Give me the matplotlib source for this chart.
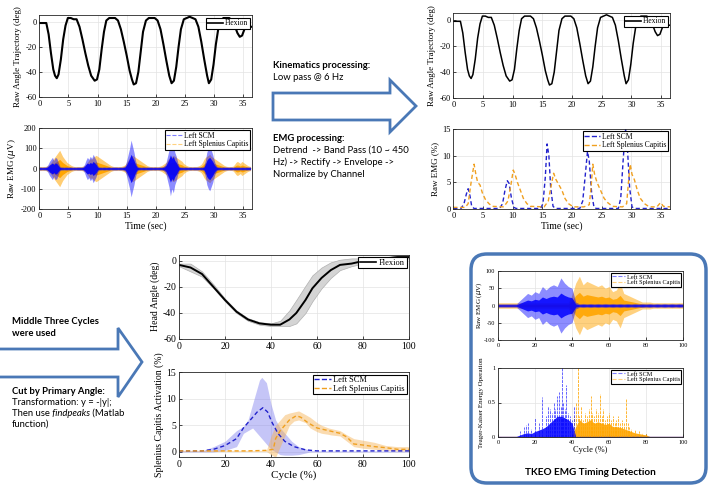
import numpy as np
import matplotlib
matplotlib.use("Agg")
import matplotlib.pyplot as plt
from matplotlib.lines import Line2D
from matplotlib.patches import Polygon, FancyBboxPatch

# ---- data ----
# primary angle trajectory (deg) vs time (s)
tid = [0, 0.6, 1.2, 1.6, 2.0, 2.4, 2.7, 3.0, 3.3, 3.7,
       4.1, 4.5, 4.9, 5.4, 5.9, 6.4, 6.9, 7.4, 7.9, 8.4,
       8.9, 9.5, 9.9, 10.3, 10.7, 11.1, 11.5, 12.0, 12.5, 13.0,
       13.5, 14.0, 14.5, 15.0, 15.5, 15.9, 16.2, 16.6, 17.0, 17.4,
       17.8, 18.3, 18.8, 19.3, 19.8, 20.3, 20.8, 21.3, 21.8, 22.3,
       22.7, 23.1, 23.5, 23.9, 24.3, 24.8, 25.3, 25.8, 26.3, 26.8,
       27.3, 27.8, 28.3, 28.8, 29.1, 29.5, 29.9, 30.3, 30.7, 31.1,
       31.6, 32.1, 32.6, 33.1, 33.6, 34.0, 34.4, 34.8, 35.2, 35.6,
       36.0, 36.5]
vinkel = [-1, -1, -1, -10, -25, -38, -43, -45, -42, -30,
          -14, -3, 3, 3, 2, 2, -4, -14, -25, -35,
          -43, -47, -46, -38, -22, -8, 1, 3, 3, 3,
          1, -6, -16, -27, -39, -46, -50, -49, -40, -24,
          -8, 1, 3, 3, 3, 1, -6, -18, -31, -43,
          -49, -47, -36, -20, -6, 2, 3, 4, 3, 2,
          -4, -16, -30, -43, -49, -46, -34, -18, -6, 1,
          3, 3, 3, 1, -4, -9, -12, -11, -6, -4,
          -4, -4]

# raw EMG amplitude (uV), one value per 0.25 s from 0 s
emg_dt = 0.25
emg_scm = [8, 8, 7, 8, 8, 10, 20, 35, 45, 55, 40, 55, 50, 30, 12, 8,
           8, 7, 8, 8, 7, 8, 8, 7, 8, 7, 8, 8, 8, 8, 10, 20,
           40, 55, 45, 60, 50, 70, 55, 40, 15, 8, 8, 7, 8, 8, 7, 8,
           8, 7, 8, 8, 8, 8, 7, 8, 8, 8, 10, 15, 40, 70, 100, 140,
           110, 80, 40, 15, 8, 8, 7, 8, 8, 7, 8, 8, 8, 8, 7, 8,
           8, 7, 8, 8, 8, 10, 15, 30, 60, 90, 135, 100, 120, 80, 60, 30,
           10, 8, 8, 7, 8, 8, 7, 8, 8, 7, 8, 8, 8, 8, 7, 8,
           8, 12, 40, 80, 100, 110, 90, 70, 40, 20, 10, 8, 8, 7, 8, 8,
           8, 8, 7, 8, 8, 7, 8, 8, 8, 8, 7, 8, 8, 7, 8, 8, 8, 8]
emg_spl = [10, 10, 10, 10, 10, 12, 15, 20, 30, 40, 50, 60, 70, 80, 90, 75,
           60, 50, 40, 30, 25, 20, 15, 12, 10, 10, 10, 10, 10, 10, 12, 15,
           20, 30, 40, 50, 45, 55, 60, 65, 60, 55, 50, 45, 40, 35, 30, 25,
           20, 15, 12, 10, 10, 10, 10, 10, 10, 12, 15, 20, 30, 40, 55, 60,
           65, 60, 55, 50, 45, 40, 35, 30, 25, 20, 15, 12, 10, 10, 10, 10,
           10, 10, 10, 12, 15, 20, 25, 30, 40, 50, 55, 60, 65, 60, 55, 50,
           45, 40, 35, 25, 20, 15, 12, 10, 10, 10, 10, 10, 10, 12, 15, 20,
           30, 45, 55, 60, 65, 70, 60, 55, 50, 45, 40, 35, 30, 25, 20, 15,
           12, 10, 10, 10, 10, 12, 20, 30, 35, 30, 25, 35, 30, 25, 20, 15,
           12, 10]

# normalized envelopes (%)
scm_t = [0, 1.3, 1.8, 2.2, 2.5, 2.8, 3.1, 3.5, 7.8, 8.3, 8.7, 9.1, 9.4, 9.8, 10.2, 10.6,
         14.7, 15.1, 15.5, 15.8, 16.1, 16.4, 16.8, 17.2, 21.3, 21.8, 22.2, 22.6, 22.9, 23.3,
         23.7, 24.1, 27.8, 28.2, 28.6, 29.0, 29.3, 29.7, 30.1, 30.5, 36.5]
scm_env = [0.1, 0.1, 1, 2.8, 3.8, 2.5, 0.5, 0.1, 0.1, 1, 3.5, 5.3, 4.8, 2, 0.3, 0.1,
           0.1, 1, 6, 12.2, 10, 4, 0.5, 0.1, 0.1, 1.5, 6, 10.8, 9, 3,
           0.3, 0.1, 0.1, 2, 9, 15.2, 12, 4, 0.4, 0.1, 0.1]
spl_t = [0, 2.0, 2.5, 3.0, 3.5, 3.8, 4.1, 4.5, 4.9, 5.4, 6.0, 6.6, 8.5, 9.2, 9.7, 10.1,
         10.4, 10.8, 11.3, 11.8, 12.4, 13.0, 15.3, 16.0, 16.5, 16.9, 17.3, 17.8, 18.3, 18.8,
         19.4, 20.2, 22.0, 22.9, 23.2, 23.5, 23.8, 24.2, 24.8, 25.4, 26.0, 26.8, 28.5, 29.2,
         29.5, 29.8, 30.1, 30.5, 31.0, 31.5, 32.2, 33.0, 34.3, 34.9, 35.4, 36.5]
spl_env = [0.3, 0.3, 1, 5, 8.4, 6.5, 5, 4.5, 3, 1.8, 1, 0.5, 0.4, 1.5, 4.5, 7.3,
           6.5, 5, 3.5, 2, 1, 0.5, 0.4, 1.5, 4.5, 6.7, 5.5, 4.5, 3.5, 2,
           1, 0.4, 0.4, 0.8, 4, 8.4, 6.5, 5, 3.5, 2, 1.2, 0.5, 0.4, 1,
           5, 8.4, 6.5, 5.5, 3.5, 2, 1, 0.4, 0.4, 1.2, 0.5, 0.4]

# head angle over cycle (%)
syklus = [0, 5, 10, 15, 20, 25, 30, 35, 40, 44, 48, 51, 55, 58, 62, 66, 70, 75, 80, 85, 90, 95, 100]
hode_mid = [-3, -5, -10, -20, -30, -39, -45, -48, -49, -49, -45, -40, -30, -21, -13, -7, -3, -2, 0, 1, 2, 3, 3]
hode_hoy = [-2, -2, -8, -18, -29, -38, -44, -47, -48, -46, -38, -30, -19, -11, -5, -1, 1, 2, 2, 2, 3, 4, 4]
hode_lav = [-4, -8, -12, -21, -31, -40, -46, -49, -50, -50, -50, -48, -40, -31, -21, -13, -7, -4, -2, 0, 1, 2, 2]

# activation over cycle (%)
scm_x = [0, 10, 15, 20, 25, 28, 31, 34, 36.5, 38.5, 40.5, 43, 46, 50, 55, 60, 100]
scm_mid = [0.2, 0.2, 0.5, 1.2, 2.5, 4.5, 6, 7.5, 8.3, 7.5, 5.5, 3.5, 2, 1, 0.4, 0.2, 0.2]
scm_bx = [0, 10, 15, 20, 25, 28, 30, 32, 35, 36, 38, 40, 42, 44, 46, 49, 52, 57, 60, 100]
scm_hoy = [0.2, 0.2, 1, 2, 4, 4.8, 6, 9, 13.5, 14, 13, 9, 6, 4.5, 3.5, 2, 1, 0.3, 0.2, 0.2]
scm_lav = [0, 0, 0, 0.3, 1, 3.5, 4, 4.5, 3, 2.5, 1.5, 0.5, 0, -0.5, -0.6, -0.6, -0.5, 0, 0, 0]
spl_x = [0, 30, 38, 41, 42, 44, 46, 48, 51, 53, 56, 60, 65, 70, 73, 76, 80, 85, 90, 95, 100]
spl_mid = [0.2, 0.2, 0.3, 0.5, 2.5, 4, 5, 6, 6.8, 6.5, 5.5, 4.5, 4, 3.5, 2.8, 1.5, 1.3, 1, 0.8, 0.5, 0.5]
spl_bx = [0, 38, 40, 42, 44, 46, 48, 50, 52, 55, 57, 60, 62, 65, 66, 70, 73, 76, 80, 85, 90, 95, 100]
spl_hoy = [0.3, 0.3, 3, 5, 6, 7, 7.3, 7.5, 7.7, 7, 6.5, 5.5, 5, 4.5, 4.4, 4, 3.2, 2.5, 2.2, 1.8, 1.2, 1, 1]
spl_lav = [0.1, 0.1, -0.5, -1, 1, 3, 5, 5.8, 6, 5.5, 4.5, 3.8, 3.5, 3.3, 3.2, 3, 2, 1, 0.7, 0.5, 0.3, 0.2, 0.2]

# raw EMG over cycle, amplitude every 2 %
syk_dx = 2
syk_scm = [5, 5, 5, 5, 5, 5, 15, 25, 35, 30, 40, 35, 55, 45, 55, 60, 55, 80, 65, 55,
           50, 10, 5, 6, 5, 6, 5, 6, 5, 6, 5, 6, 5, 6, 5, 6, 5, 6, 5, 6,
           5, 6, 5, 6, 5, 6, 5, 6, 5, 6, 5]
syk_spl = [8, 8, 8, 8, 8, 8, 8, 8, 8, 8, 8, 8, 8, 8, 8, 8, 8, 8, 8, 8,
           30, 65, 85, 60, 70, 65, 60, 55, 60, 50, 55, 40, 45, 65, 35, 30, 25, 20, 15, 10,
           10, 10, 8, 8, 8, 8, 8, 8, 8, 8, 8]

# TKEO spikes and dense mass
tk_scm_x = [12, 14, 15, 16, 18, 20, 22, 24, 26, 27, 28, 29, 30, 31, 32, 33, 34, 34.5, 35, 36, 37, 38, 39, 40, 41]
tk_scm_y = [0.08, 0.15, 0.18, 0.2, 0.12, 0.28, 0.2, 0.58, 0.3, 0.45, 0.4, 0.35, 0.5, 0.4, 0.6, 0.65, 0.45, 1.0, 0.5, 0.4, 0.75, 0.35, 0.3, 0.25, 0.45]
tk_spl_x = [41, 42, 43, 44, 45, 46, 47, 48, 49, 50, 51, 52, 53, 54, 55, 56, 57, 58, 59, 60,
            61, 62, 63, 64, 65, 66, 67, 68, 69, 70, 71, 72, 74, 76, 78, 80]
tk_spl_y = [0.3, 0.5, 1.0, 0.3, 0.45, 0.25, 0.35, 0.3, 0.4, 0.6, 0.35, 0.3, 0.4, 0.35, 0.62, 0.3, 0.4, 0.25, 0.3, 0.35,
            0.25, 0.3, 0.2, 0.25, 0.3, 0.2, 0.25, 0.2, 0.55, 0.2, 0.15, 0.12, 0.1, 0.08, 0.06, 0.05]
tk_scm_masse = [0.01, 0.01, 0.01, 0.01, 0.01, 0.01, 0.03, 0.05, 0.06, 0.05, 0.08, 0.1, 0.12, 0.15, 0.2, 0.25, 0.3, 0.3, 0.28, 0.25,
                0.2, 0.01, 0.01, 0.01, 0.01, 0.01, 0.01, 0.01, 0.01, 0.01, 0.01, 0.01, 0.01, 0.01, 0.01, 0.01, 0.01, 0.01, 0.01, 0.01,
                0.01, 0.01, 0.01, 0.01, 0.01, 0.01, 0.01, 0.01, 0.01, 0.01, 0.01]
tk_spl_masse = [0.01, 0.01, 0.01, 0.01, 0.01, 0.01, 0.01, 0.01, 0.01, 0.01, 0.01, 0.01, 0.01, 0.01, 0.01, 0.01, 0.01, 0.01, 0.01, 0.01,
                0.01, 0.15, 0.25, 0.2, 0.22, 0.25, 0.2, 0.22, 0.2, 0.18, 0.2, 0.15, 0.15, 0.14, 0.12, 0.1, 0.08, 0.06, 0.05, 0.04,
                0.03, 0.01, 0.01, 0.01, 0.01, 0.01, 0.01, 0.01, 0.01, 0.01, 0.01]

# ---- styling ----
BLA = "#0000ff"
ORANSJE = "#ffa500"
BLA_ENV = "#2222cc"
ORA_ENV = "#f0a020"
PIL = "#4a78b6"

plt.rcParams["font.family"] = ["Liberation Serif", "DejaVu Serif"]
plt.rcParams["axes.unicode_minus"] = False

W, H = 709, 486
fig = plt.figure(figsize=(W / 100, H / 100), dpi=100)


def akse(l, t, r, b):
    return fig.add_axes([l / W, 1 - b / H, (r - l) / W, (b - t) / H])


def stil(ax, fs=6):
    ax.tick_params(direction="in", length=2, width=0.5, labelsize=fs, pad=2)
    ax.grid(True, color="#e3e3e3", lw=0.5)
    ax.set_axisbelow(True)
    for s in ax.spines.values():
        s.set_linewidth(0.6)
        s.set_color("#262626")


def forklaring(ax, fs, handles=None, labels=None, **kw):
    args = (handles, labels) if handles is not None else ()
    lg = ax.legend(*args, fontsize=fs, frameon=True, fancybox=False, framealpha=1,
                   edgecolor="black", borderpad=0.2, handlelength=2.0, handletextpad=0.3,
                   labelspacing=0.05, borderaxespad=0.3, **kw)
    lg.get_frame().set_linewidth(0.8)
    return lg


emg_tid = np.arange(len(emg_scm)) * emg_dt
syk_tid = np.arange(len(syk_scm)) * syk_dx
fl_handle = [Line2D([], [], color="black", lw=1.2)]
raa_handles = [Line2D([], [], color=BLA, lw=0.8, ls="--", alpha=0.5),
               Line2D([], [], color=ORANSJE, lw=0.8, ls="--", alpha=0.5)]
env_handles = [Line2D([], [], color=BLA_ENV, lw=1.0, ls="--"),
               Line2D([], [], color=ORA_ENV, lw=1.0, ls="--")]
navn = ["Left SCM", "Left Splenius Capitis"]

# A: raw angle
ax = akse(39.3, 15.5, 252, 97)
ax.plot(tid, vinkel, color="black", lw=1.5)
ax.set_xlim(0, 36.5)
ax.set_ylim(-60, 5)
ax.set_xticks(range(0, 36, 5))
ax.set_yticks([-60, -40, -20, 0])
ax.set_ylabel("Raw Angle Trajectory (deg)", fontsize=6.5, labelpad=2)
stil(ax)
forklaring(ax, 5.5, fl_handle, ["Flexion"], loc="upper right")

# B: raw EMG
ax = akse(39.3, 128, 252, 209)
ax.fill_between(emg_tid, [-a for a in emg_spl], emg_spl, color=ORANSJE, alpha=0.55, lw=0)
ax.fill_between(emg_tid, [-0.5 * a for a in emg_spl], [0.5 * a for a in emg_spl], color=ORANSJE, lw=0)
ax.fill_between(emg_tid, [-a for a in emg_scm], emg_scm, color=BLA, alpha=0.45, lw=0)
ax.fill_between(emg_tid, [-0.5 * a for a in emg_scm], [0.5 * a for a in emg_scm], color=BLA, alpha=0.9, lw=0)
ax.set_xlim(0, 36.5)
ax.set_ylim(-200, 200)
ax.set_xticks(range(0, 36, 5))
ax.set_yticks([-200, -100, 0, 100, 200])
ax.set_ylabel("Raw EMG ($\\mu$V)", fontsize=6.5, labelpad=2)
ax.set_xlabel("Time (sec)", fontsize=7, labelpad=1)
stil(ax)
forklaring(ax, 5.5, raa_handles, navn, loc="upper right")

# C: filtered angle
ax = akse(453.3, 13.5, 670, 98)
ax.plot(tid, vinkel, color="black", lw=1.1)
ax.set_xlim(0, 36.5)
ax.set_ylim(-60, 5)
ax.set_xticks(range(0, 36, 5))
ax.set_yticks([-60, -40, -20, 0])
ax.set_ylabel("Raw Angle Trajectory (deg)", fontsize=6.5, labelpad=2)
stil(ax)
forklaring(ax, 5.5, fl_handle, ["Flexion"], loc="upper right")

# D: envelopes
ax = akse(453.3, 129, 670, 209)
ax.plot(scm_t, scm_env, color=BLA_ENV, lw=1.0, ls=(0, (3, 2)))
ax.plot(spl_t, spl_env, color=ORA_ENV, lw=1.0, ls=(0, (3, 2)))
ax.set_xlim(0, 36.5)
ax.set_ylim(0, 15)
ax.set_xticks(range(0, 36, 5))
ax.set_yticks([0, 5, 10, 15])
ax.set_ylabel("Raw EMG (%)", fontsize=6.5, labelpad=2)
ax.set_xlabel("Time (sec)", fontsize=7, labelpad=1)
stil(ax)
forklaring(ax, 5.5, env_handles, navn, loc="upper right")

# E: head angle over cycle
ax = akse(179, 254.5, 409, 339)
ax.fill_between(syklus, hode_lav, hode_hoy, color="#d4d4d4", lw=0.5, edgecolor="#b0b0b0")
ax.plot(syklus, hode_mid, color="black", lw=1.4)
ax.set_xlim(0, 100)
ax.set_ylim(-60, 5)
ax.set_yticks([-60, -40, -20, 0])
ax.set_ylabel("Head Angle (deg)", fontsize=7, labelpad=2)
stil(ax, 7)
forklaring(ax, 6, fl_handle, ["Flexion"], loc="upper right")

# F: activation over cycle
ax = akse(179, 372, 409, 457.3)
ax.fill_between(scm_bx, scm_lav, scm_hoy, color="#8080ee", alpha=0.45, lw=0)
ax.fill_between(spl_bx, spl_lav, spl_hoy, color="#f5b050", alpha=0.45, lw=0)
ax.plot(scm_x, scm_mid, color=BLA_ENV, lw=1.0, ls=(0, (3, 2)))
ax.plot(spl_x, spl_mid, color=ORA_ENV, lw=1.0, ls=(0, (3, 2)))
ax.set_xlim(0, 100)
ax.set_ylim(-1, 15)
ax.set_yticks([0, 5, 10, 15])
ax.set_ylabel("Splenius Capitis Activation (%)", fontsize=7, labelpad=2)
ax.set_xlabel("Cycle (%)", fontsize=8, labelpad=1)
stil(ax, 7)
forklaring(ax, 6, env_handles, navn, loc="upper right")

# G: raw EMG over cycle
ax = akse(498, 271, 683, 340)
ax.fill_between(syk_tid, [-a for a in syk_spl], syk_spl, color=ORANSJE, alpha=0.5, lw=0)
ax.fill_between(syk_tid, [-0.45 * a for a in syk_spl], [0.45 * a for a in syk_spl], color=ORANSJE, alpha=0.9, lw=0)
ax.fill_between(syk_tid, [-a for a in syk_scm], syk_scm, color=BLA, alpha=0.45, lw=0)
ax.fill_between(syk_tid, [-0.45 * a for a in syk_scm], [0.45 * a for a in syk_scm], color=BLA, alpha=0.85, lw=0)
ax.set_xlim(0, 100)
ax.set_ylim(-100, 100)
ax.set_yticks([-100, -50, 0, 50, 100])
stil(ax, 4.5)
ax.set_ylabel("Raw EMG ($\\mu$V)", fontsize=5)
ax.yaxis.set_label_coords((484 - 498) / 185, 0.5)
forklaring(ax, 4.5, raa_handles, navn, loc="upper right")

# H: TKEO
ax = akse(498, 368, 683, 437)
ax.fill_between(syk_tid, 0, tk_spl_masse, color=ORANSJE, alpha=0.9, lw=0)
ax.fill_between(syk_tid, 0, tk_scm_masse, color=BLA, alpha=0.85, lw=0)
ax.vlines(tk_spl_x, 0, tk_spl_y, color=ORANSJE, lw=0.7, alpha=0.8, linestyles=(0, (3, 1)))
ax.vlines(tk_scm_x, 0, tk_scm_y, color=BLA, lw=0.7, alpha=0.6, linestyles=(0, (3, 1)))
ax.set_xlim(0, 100)
ax.set_ylim(0, 1)
ax.set_yticks([0, 0.5, 1])
ax.set_yticklabels(["0", "0.5", "1"])
stil(ax, 4.5)
ax.set_ylabel("Teager-Kaiser Energy Operation", fontsize=5)
ax.yaxis.set_label_coords((484 - 498) / 185, 0.5)
ax.set_xlabel("Cycle (%)", fontsize=6, labelpad=1)
forklaring(ax, 4.5, raa_handles, navn, loc="upper right")

# ---- annotations, arrows and box in pixel coordinates ----
bg = fig.add_axes([0, 0, 1, 1], zorder=5)
bg.set_xlim(0, W)
bg.set_ylim(H, 0)
bg.axis("off")
bg.patch.set_alpha(0)

bg.add_patch(Polygon([(273, 93), (390, 93), (390, 80), (416, 106), (390, 132), (390, 120), (273, 120)],
                     closed=True, facecolor="white", edgecolor=PIL, lw=2))
bg.add_patch(Polygon([(-5, 349), (118, 349), (118, 328), (142, 362), (118, 397), (118, 377), (-5, 377)],
                     closed=True, facecolor="white", edgecolor=PIL, lw=2))
bg.add_patch(FancyBboxPatch((471, 254), 235, 229, boxstyle="round,pad=0,rounding_size=16",
                            facecolor="none", edgecolor=PIL, lw=2.5))

sans = ["Lato", "DejaVu Sans"]
fs = 6.8
bg.text(273, 65, "Kinematics processing:", family=sans, fontsize=fs, fontweight="bold", va="center")
bg.text(273, 77, "Low pass @ 6 Hz", family=sans, fontsize=fs, va="center")
bg.text(273, 138, "EMG processing:", family=sans, fontsize=fs, fontweight="bold", va="center")
bg.text(273, 150, "Detrend  -> Band Pass (10 ~ 450", family=sans, fontsize=fs, va="center")
bg.text(273, 162, "Hz) -> Rectify -> Envelope ->", family=sans, fontsize=fs, va="center")
bg.text(273, 174, "Normalize by Channel", family=sans, fontsize=fs, va="center")

bg.text(12, 321, "Middle Three Cycles", family=sans, fontsize=fs, fontweight="bold", va="center")
bg.text(12, 333, "were used", family=sans, fontsize=fs, fontweight="bold", va="center")
bg.text(12, 391, "Cut by Primary Angle:", family=sans, fontsize=fs, fontweight="bold", va="center")
bg.text(12, 402, "Transformation: y = -|y|;", family=sans, fontsize=fs, va="center")
r = fig.canvas.get_renderer()
x = 12
for s, st in [("Then use", "normal"), (" findpeaks", "italic"), (" (Matlab", "normal")]:
    t = bg.text(x, 413, s, family=sans, fontsize=fs, fontstyle=st, va="center")
    x += t.get_window_extent(renderer=r).width
bg.text(12, 424, "function)", family=sans, fontsize=fs, va="center")

bg.text(590, 472, "TKEO EMG Timing Detection", family=sans, fontsize=7.2, fontweight="bold",
        va="center", ha="center")

fig.savefig("out.png", dpi=100)
